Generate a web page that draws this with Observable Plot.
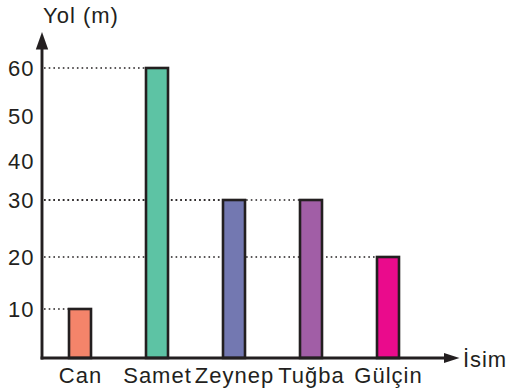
<!DOCTYPE html>
<html><head><meta charset="utf-8">
<script src="https://cdn.jsdelivr.net/npm/d3@7"></script>
<script src="https://cdn.jsdelivr.net/npm/@observablehq/plot@0.6"></script>
<style>html,body{margin:0;padding:0;background:#fff} svg{display:block}</style>
</head><body><div id="chart"></div>
<script>
const names = ["Can", "Samet", "Zeynep", "Tuğba", "Gülçin"];
const distances = [10, 60, 30, 30, 20];
const colors = ["#f4846a", "#5dc3a4", "#7378b1", "#a15ea6", "#ea0b8c"];
const yTicks = [10, 20, 30, 40, 50, 60];
const yTitle = "Yol (m)";
const xTitle = "İsim";

const data = names.map((name, i) => ({name, value: distances[i], color: colors[i]}));
const ink = "#231f20";
const font = "'Liberation Sans', Arial, sans-serif";

// the reference's hand-drawn value axis is slightly uneven: piecewise-linear warp of the y scale
const yWarp = d3.scaleLinear()
  .domain([0, 10, 20, 30, 40, 50, 60])
  .range([0, 10.14, 20.9, 32.69, 40.76, 50.07, 60]);

const chart = Plot.plot({
  width: 507, height: 391,
  marginLeft: 42, marginRight: 49, marginTop: 33, marginBottom: 33,
  style: {fontFamily: font, fontSize: "22px", color: ink, background: "#fff", overflow: "visible", letterSpacing: "1px"},
  x: {type: "band", domain: names, range: [28.5, 439], paddingInner: 0.717, paddingOuter: 0.5},
  y: {domain: [0, 60], range: [358, 68], transform: yWarp},
  color: {type: "identity"},
  marks: [
    Plot.barY(data, {x: "name", y: "value", fill: "color", stroke: ink, strokeWidth: 2.6}),
    Plot.axisX({tickSize: 0, tickPadding: 9, label: null, fill: ink}),
    Plot.axisY(yTicks, {tickSize: 0, tickPadding: 8, label: null, fill: ink})
  ]
});

document.getElementById("chart").appendChild(chart);

const svg = d3.select(chart);
const xs = chart.scale("x");
const ys = chart.scale("y");
const applyIncludesWarp = Math.abs(ys.apply(30) - ys.apply(yWarp(30))) < 0.01 ? true
  : Math.abs(ys.apply(30) - 200) < 2;
const yPix = v => applyIncludesWarp ? ys.apply(v) : ys.apply(yWarp(v));
const y0 = yPix(0);
const axisX = 42;

// dotted guide lines from the y axis to each bar (beneath bars)
const guides = svg.insert("g", "g");
guides.selectAll("line").data(data).join("line")
  .attr("x1", axisX + 2)
  .attr("x2", d => xs.apply(d.name))
  .attr("y1", d => yPix(d.value))
  .attr("y2", d => yPix(d.value))
  .attr("stroke", ink)
  .attr("stroke-width", 1.6)
  .attr("stroke-dasharray", "1.6 3.1");

// axes with arrows
const axes = svg.append("g").attr("fill", ink).attr("stroke", ink);
axes.append("line").attr("x1", axisX).attr("x2", axisX).attr("y1", y0 + 1.4).attr("y2", 46).attr("stroke-width", 2.9);
axes.append("line").attr("x1", axisX - 1.4).attr("x2", 447).attr("y1", y0).attr("y2", y0).attr("stroke-width", 2.8);
axes.append("polygon").attr("stroke", "none").attr("points", `${axisX},32 ${axisX - 6.2},49.5 ${axisX + 6.2},49.5`);
axes.append("polygon").attr("stroke", "none").attr("points", `459.5,${y0} 444,${y0 - 5} 444,${y0 + 5}`);

// axis titles
svg.append("text").attr("x", 43).attr("y", 23).attr("fill", ink).attr("text-anchor", "start")
  .style("font-family", font).style("font-size", "22px").style("letter-spacing", "1px").text(yTitle);
svg.append("text").attr("x", 463).attr("y", 366.5).attr("fill", ink).attr("text-anchor", "start")
  .style("font-family", font).style("font-size", "22px").style("letter-spacing", "0.9px").text(xTitle);
</script>
</body></html>
